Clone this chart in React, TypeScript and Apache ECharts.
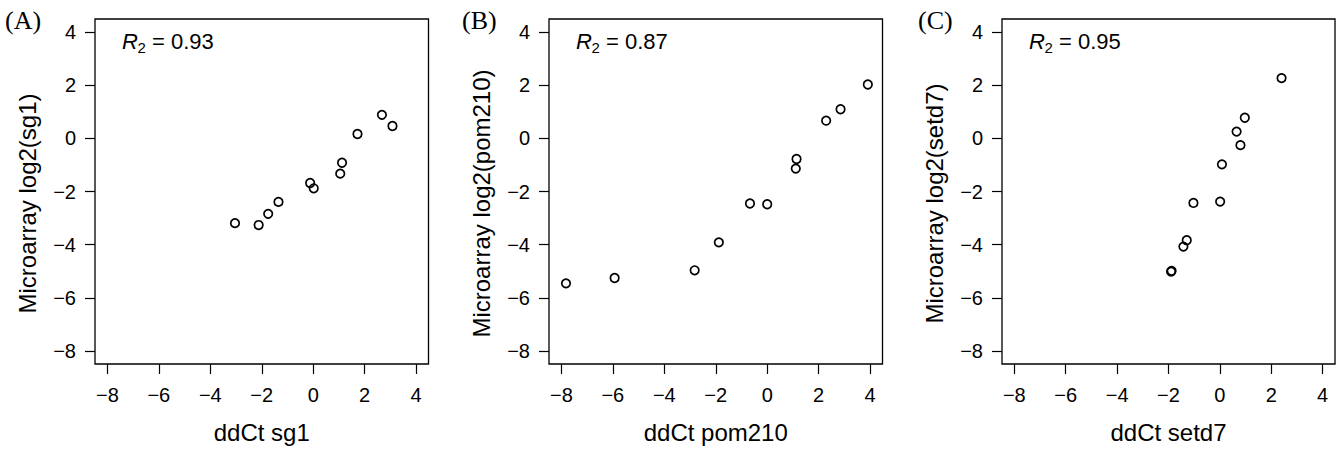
import React, { useEffect, useRef } from "react";
import * as echarts from "echarts";

const ticks = [-8, -6, -4, -2, 0, 2, 4];

const xA = [-3.04, -2.12, -1.75, -1.35, -0.12, 0.02, 1.12, 1.05, 1.72, 2.67, 3.08];
const yA = [-3.19, -3.26, -2.84, -2.39, -1.68, -1.88, -0.92, -1.33, 0.16, 0.88, 0.46];
const xB = [-7.82, -5.93, -2.82, -1.88, -0.67, 0.0, 1.14, 1.11, 2.29, 2.85, 3.91];
const yB = [-5.45, -5.25, -4.96, -3.91, -2.45, -2.48, -0.78, -1.14, 0.66, 1.09, 2.02];
const xC = [-1.9, -1.88, -1.42, -1.29, -1.03, 0.01, 0.08, 0.65, 0.8, 0.97, 2.4];
const yC = [-5.01, -4.98, -4.07, -3.83, -2.43, -2.38, -0.98, 0.25, -0.26, 0.77, 2.26];

const panelLabels = ["(A)", "(B)", "(C)"];
const xNames = ["ddCt sg1", "ddCt pom210", "ddCt setd7"];
const yNames = ["Microarray log2(sg1)", "Microarray log2(pom210)", "Microarray log2(setd7)"];
const r2Values = ["0.93", "0.87", "0.95"];

const AX_MIN = -8.48;
const AX_MAX = 4.48;

const grids = [
  { left: 95, top: 19, width: 333.5, height: 353.3 },
  { left: 549, top: 19, width: 333.5, height: 353.3 },
  { left: 1002, top: 19, width: 333, height: 353.3 },
];
const labelX = [5, 462, 918];

const SANS = "Liberation Sans, Arial, Helvetica, sans-serif";
const SERIF = "Liberation Serif, Times New Roman, serif";

const fmt = (v: number) => (v < 0 ? "\u2212" + Math.abs(v) : String(v));

export default function App() {
  const ref = useRef<HTMLDivElement>(null);
  useEffect(() => {
    if (!ref.current) return;
    const chart = echarts.init(ref.current, undefined, { renderer: "svg" });
    const sets = [
      [xA, yA],
      [xB, yB],
      [xC, yC],
    ];
    const axisCommon = (isX: boolean, name: string) => ({
      type: "value",
      min: AX_MIN,
      max: AX_MAX,
      name,
      nameLocation: "middle",
      nameGap: isX ? 56 : 56,
      nameTextStyle: {
        fontFamily: SANS,
        fontSize: 24,
        color: "#000",
        padding: isX ? 0 : [0, 24, 0, 0],
      },
      axisLine: { show: false, onZero: false },
      splitLine: { show: false },
      axisTick: {
        show: true,
        customValues: ticks,
        length: 10,
        inside: false,
        lineStyle: { color: "#000", width: 1.2 },
      },
      axisLabel: {
        customValues: ticks,
        formatter: fmt,
        fontFamily: SANS,
        fontSize: 20,
        color: "#000",
        margin: isX ? 21 : 19,
      },
    });
    const graphics: any[] = [];
    grids.forEach((g, i) => {
      graphics.push({
        type: "text",
        left: labelX[i],
        top: 7,
        style: { text: panelLabels[i], font: `26px ${SERIF}`, fill: "#000" },
      });
      const rx = g.left + 27;
      graphics.push({
        type: "text",
        x: rx,
        y: 41,
        style: {
          text: "R",
          font: `italic 22px ${SANS}`,
          fill: "#000",
          verticalAlign: "middle",
          align: "left",
        },
      });
      graphics.push({
        type: "text",
        x: rx + 15.5,
        y: 47.5,
        style: {
          text: "2",
          font: `15px ${SANS}`,
          fill: "#000",
          verticalAlign: "middle",
          align: "left",
        },
      });
      graphics.push({
        type: "text",
        x: rx + 30,
        y: 41,
        style: {
          text: "= " + r2Values[i],
          font: `22px ${SANS}`,
          fill: "#000",
          verticalAlign: "middle",
          align: "left",
        },
      });
    });
    chart.setOption({
      animation: false,
      backgroundColor: "#fff",
      grid: grids.map((g) => ({
        ...g,
        show: true,
        borderColor: "#000",
        borderWidth: 1.3,
        backgroundColor: "transparent",
        containLabel: false,
      })),
      xAxis: grids.map((_, i) => ({ ...axisCommon(true, xNames[i]), gridIndex: i })),
      yAxis: grids.map((_, i) => ({ ...axisCommon(false, yNames[i]), gridIndex: i })),
      series: sets.map(([xs, ys], i) => ({
        type: "scatter",
        xAxisIndex: i,
        yAxisIndex: i,
        symbol: "circle",
        symbolSize: 8.5,
        itemStyle: { color: "rgba(0,0,0,0)", borderColor: "#000", borderWidth: 1.7, opacity: 1 },
        data: xs.map((x, k) => [x, ys[k]]),
      })),
      graphic: graphics,
    });
    return () => chart.dispose();
  }, []);
  return (
    <div
      ref={ref}
      style={{ position: "fixed", left: 0, top: 0, width: 1338, height: 449, background: "#fff" }}
    />
  );
}
